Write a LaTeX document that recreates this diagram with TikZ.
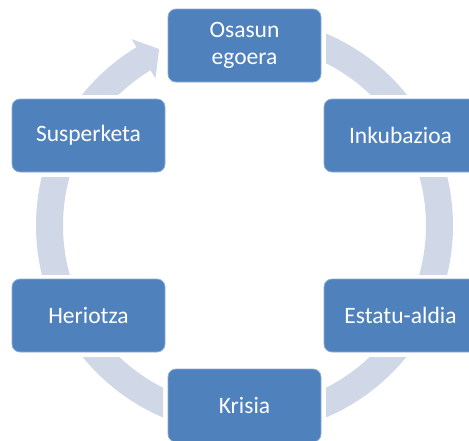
\documentclass[tikz,border=0pt]{standalone}
\usepackage{fontspec}
\setmainfont{Carlito}
\usetikzlibrary{calc}
\definecolor{boxblue}{HTML}{4F81BD}
\definecolor{ringcol}{HTML}{D0D8E8}
\tikzset{
  stagebox/.style={rectangle, rounded corners=8pt, fill=boxblue, draw=white!35!boxblue, line width=0.8pt,
    minimum width=153pt, minimum height=73pt, inner sep=0pt, align=center, text=white,
    font=\fontsize{23.5}{27.5}\selectfont},
  ring/.style={draw=ringcol, line width=27pt}
}
\begin{document}
\begin{tikzpicture}[x=1pt,y=1pt]
\useasboundingbox (0,0) rectangle (469,-440);
\coordinate (C) at (244.5,-225.5);
% ring segments
\begin{scope}\clip (326,0) rectangle (480,-94); \draw[ring] (C) circle[radius=195]; \end{scope}
\begin{scope}\clip (300,-177) rectangle (480,-274); \draw[ring] (C) circle[radius=195]; \end{scope}
\begin{scope}\clip (326,-357) rectangle (480,-450); \draw[ring] (C) circle[radius=195]; \end{scope}
\begin{scope}\clip (0,-357) rectangle (163,-450); \draw[ring] (C) circle[radius=195]; \end{scope}
\begin{scope}\clip (0,-177) rectangle (200,-274); \draw[ring] (C) circle[radius=195]; \end{scope}
\begin{scope}\clip (0,-94) rectangle (240,0);
  \draw[ring] (C) ++(145:195) arc[start angle=145, end angle=120.8, radius=195];
\end{scope}
\coordinate (hb1) at ($(C)+(121.2:218)$);
\coordinate (hb2) at ($(C)+(121.2:172)$);
\coordinate (ht) at ($(C)+(115.8:196)$);
\fill[ringcol] (hb1) -- (ht) -- (hb2) -- cycle;
% boxes
\node[stagebox] (n1) at (244.5,-45.5) {Osasun\\egoera};
\node[stagebox] (n2) at (400.5,-135.5) {Inkubazioa};
\node[stagebox] (n3) at (400.5,-315.5) {Estatu-aldia};
\node[stagebox] (n4) at (244.5,-405.5) {Krisia};
\node[stagebox] (n5) at (88.5,-315.5) {Heriotza};
\node[stagebox] (n6) at (88.5,-135.5) {Susperketa};
\end{tikzpicture}
\end{document}
